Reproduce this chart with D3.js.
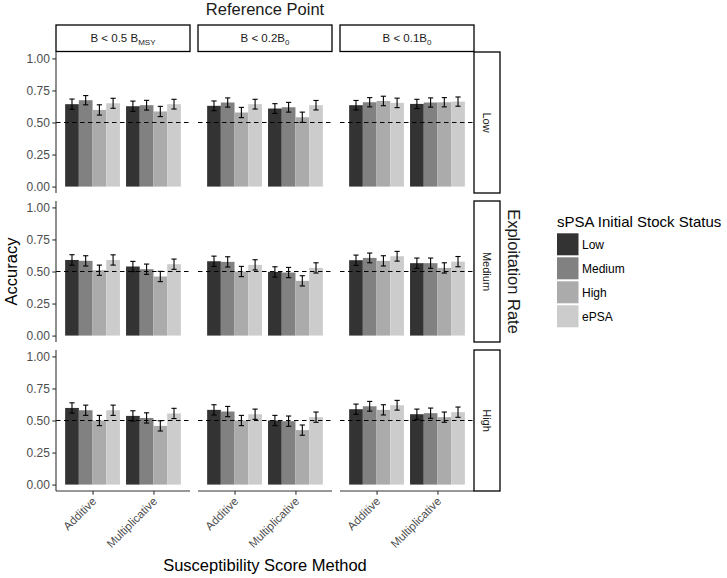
<!DOCTYPE html>
<html>
<head>
<meta charset="utf-8">
<script src="https://cdn.jsdelivr.net/npm/d3@7"></script>
<style>
  html, body { margin: 0; padding: 0; background: #fff; }
  svg { display: block; font-family: "Liberation Sans", Arial, sans-serif; }
</style>
</head>
<body>
<svg id="chart" width="727" height="578"></svg>
<script>
// ---------- DATA ----------
const refPointLabels = [["B < 0.5 B", "MSY"], ["B < 0.2B", "0"], ["B < 0.1B", "0"]];
const exploitRates = ["Low", "Medium", "High"];
const methods = ["Additive", "Multiplicative"];
const stockStatuses = ["Low", "Medium", "High", "ePSA"];
const yTicks = [0, 0.25, 0.5, 0.75, 1.0];

// accuracy per exploitation rate; rows: [refPoint][method] -> values per stock status
const accuracyLowExpl = [
  [[0.643, 0.674, 0.598, 0.650], [0.627, 0.635, 0.586, 0.643]],
  [[0.630, 0.656, 0.578, 0.643], [0.609, 0.619, 0.541, 0.635]],
  [[0.635, 0.658, 0.668, 0.653], [0.645, 0.656, 0.658, 0.663]]
];
const accuracyMediumExpl = [
  [[0.590, 0.583, 0.510, 0.590], [0.539, 0.518, 0.461, 0.557]],
  [[0.580, 0.575, 0.500, 0.552], [0.497, 0.492, 0.427, 0.528]],
  [[0.588, 0.606, 0.583, 0.619], [0.565, 0.565, 0.528, 0.577]]
];
const accuracyHighExpl = [
  [[0.598, 0.580, 0.500, 0.580], [0.536, 0.520, 0.458, 0.555]],
  [[0.583, 0.570, 0.500, 0.549], [0.500, 0.495, 0.425, 0.526]],
  [[0.588, 0.611, 0.583, 0.619], [0.549, 0.557, 0.526, 0.565]]
];
// half-width of error bars
const errorLowExpl = [
  [[0.040, 0.036, 0.040, 0.039], [0.040, 0.038, 0.040, 0.038]],
  [[0.038, 0.036, 0.040, 0.038], [0.038, 0.038, 0.040, 0.037]],
  [[0.037, 0.036, 0.037, 0.037], [0.036, 0.036, 0.036, 0.036]]
];
const errorMediumExpl = [
  [[0.041, 0.040, 0.040, 0.040], [0.040, 0.040, 0.040, 0.040]],
  [[0.040, 0.040, 0.040, 0.040], [0.040, 0.040, 0.040, 0.040]],
  [[0.040, 0.038, 0.040, 0.038], [0.040, 0.040, 0.040, 0.040]]
];
const errorHighExpl = [
  [[0.040, 0.040, 0.040, 0.040], [0.040, 0.040, 0.040, 0.040]],
  [[0.040, 0.040, 0.040, 0.040], [0.040, 0.040, 0.040, 0.040]],
  [[0.040, 0.038, 0.040, 0.038], [0.040, 0.040, 0.040, 0.040]]
];
const accuracyByExpl = [accuracyLowExpl, accuracyMediumExpl, accuracyHighExpl];
const errorByExpl = [errorLowExpl, errorMediumExpl, errorHighExpl];
const fillColors = ["#333333", "#818181", "#ababab", "#cccccc"];

// ---------- LAYOUT ----------
const svg = d3.select("#chart");
const colX0 = [56, 198, 340], panelW = 134;
const rowY0 = [52, 201, 350], panelH = 141;
const stripTopY = 25, stripTopH = 26.5;
const stripRightX = 474, stripRightW = 26;
const axisColor = "#333333", tickTextColor = "#4d4d4d";

const color = d3.scaleOrdinal().domain(stockStatuses).range(fillColors);

colX0.forEach((x0, ci) => {
  const xPos = d3.scalePoint().domain(methods).range([x0, x0 + panelW]).padding(0.6);
  const step = xPos.step();
  const xSub = d3.scaleBand().domain(stockStatuses).range([-0.45 * step, 0.45 * step]);

  rowY0.forEach((y0, ri) => {
    const y = d3.scaleLinear().domain([-0.05, 1.05]).range([y0 + panelH, y0]);
    const g = svg.append("g");
    const acc = accuracyByExpl[ri][ci];
    const err = errorByExpl[ri][ci];
    const data = [];
    methods.forEach((m, mi) => stockStatuses.forEach((s, si) => {
      data.push({ m, s, v: acc[mi][si], e: err[mi][si] });
    }));
    g.selectAll("rect.bar").data(data).enter().append("rect")
      .attr("x", d => xPos(d.m) + xSub(d.s))
      .attr("width", xSub.bandwidth())
      .attr("y", d => y(d.v))
      .attr("height", d => y(0) - y(d.v))
      .attr("fill", d => color(d.s));
    // error bars
    const capW = 2.6;
    const eb = g.selectAll("g.eb").data(data).enter().append("g")
      .attr("stroke", "#000").attr("stroke-width", 1.1);
    eb.append("line")
      .attr("x1", d => xPos(d.m) + xSub(d.s) + xSub.bandwidth() / 2)
      .attr("x2", d => xPos(d.m) + xSub(d.s) + xSub.bandwidth() / 2)
      .attr("y1", d => y(d.v - d.e)).attr("y2", d => y(d.v + d.e));
    eb.append("line")
      .attr("x1", d => xPos(d.m) + xSub(d.s) + xSub.bandwidth() / 2 - capW)
      .attr("x2", d => xPos(d.m) + xSub(d.s) + xSub.bandwidth() / 2 + capW)
      .attr("y1", d => y(d.v + d.e)).attr("y2", d => y(d.v + d.e));
    eb.append("line")
      .attr("x1", d => xPos(d.m) + xSub(d.s) + xSub.bandwidth() / 2 - capW)
      .attr("x2", d => xPos(d.m) + xSub(d.s) + xSub.bandwidth() / 2 + capW)
      .attr("y1", d => y(d.v - d.e)).attr("y2", d => y(d.v - d.e));
    // dashed reference line
    g.append("line")
      .attr("x1", x0).attr("x2", x0 + panelW)
      .attr("y1", y(0.5)).attr("y2", y(0.5))
      .attr("stroke", "#000").attr("stroke-width", 1.1)
      .attr("stroke-dasharray", "4.5,3.5");

    // y axis on first column
    if (ci === 0) {
      const ax = svg.append("g").attr("transform", `translate(${x0},0)`)
        .call(d3.axisLeft(y).tickValues(yTicks).tickFormat(d3.format(".2f")).tickSize(3.7).tickPadding(2.5));
      ax.select(".domain").attr("stroke", axisColor).attr("stroke-width", 1.1)
        .attr("d", `M0,${y0}V${y0 + panelH}`);
      ax.selectAll(".tick line").attr("stroke", axisColor).attr("stroke-width", 1.1);
      ax.selectAll(".tick text").attr("fill", tickTextColor).attr("font-size", 12)
        .attr("font-family", "Liberation Sans, Arial, sans-serif");
    }
    // x axis on bottom row
    if (ri === rowY0.length - 1) {
      const ax = svg.append("g").attr("transform", `translate(0,${y0 + panelH})`)
        .call(d3.axisBottom(xPos).tickSize(3.7));
      ax.select(".domain").attr("stroke", axisColor).attr("stroke-width", 1.1)
        .attr("d", `M${x0},0H${x0 + panelW}`);
      ax.selectAll(".tick line").attr("stroke", axisColor).attr("stroke-width", 1.1);
      ax.selectAll(".tick text").attr("fill", tickTextColor).attr("font-size", 11.5)
        .attr("font-family", "Liberation Sans, Arial, sans-serif")
        .attr("text-anchor", "end")
        .attr("dy", null).attr("y", null)
        .attr("transform", "translate(4,11) rotate(-45)");
    }
    // right strip
    if (ci === colX0.length - 1) {
      svg.append("rect").attr("x", stripRightX).attr("y", y0)
        .attr("width", stripRightW).attr("height", panelH)
        .attr("fill", "#fff").attr("stroke", "#000").attr("stroke-width", 1.3);
      svg.append("text")
        .attr("transform", `translate(${stripRightX + stripRightW / 2},${y0 + panelH / 2}) rotate(90)`)
        .attr("text-anchor", "middle").attr("dominant-baseline", "central")
        .attr("font-size", 11).attr("fill", "#1a1a1a")
        .text(exploitRates[ri]);
    }
  });

  // top strip
  svg.append("rect").attr("x", x0).attr("y", stripTopY)
    .attr("width", panelW).attr("height", stripTopH)
    .attr("fill", "#fff").attr("stroke", "#000").attr("stroke-width", 1.3);
  const t = svg.append("text")
    .attr("x", x0 + panelW / 2).attr("y", stripTopY + stripTopH / 2 + 4)
    .attr("text-anchor", "middle").attr("font-size", 11.5).attr("fill", "#1a1a1a");
  t.append("tspan").text(refPointLabels[ci][0]);
  t.append("tspan").attr("font-size", 8).attr("dy", 3).text(refPointLabels[ci][1]);
});

// titles
svg.append("text").attr("x", 265).attr("y", 15).attr("text-anchor", "middle")
  .attr("font-size", 16.5).attr("fill", "#1a1a1a").text("Reference Point");
svg.append("text").attr("x", 265).attr("y", 571).attr("text-anchor", "middle")
  .attr("font-size", 16.5).attr("fill", "#000").text("Susceptibility Score Method");
svg.append("text").attr("transform", "translate(17,271.5) rotate(-90)").attr("text-anchor", "middle")
  .attr("font-size", 16.5).attr("fill", "#000").text("Accuracy");
svg.append("text").attr("transform", "translate(508,271.5) rotate(90)").attr("text-anchor", "middle")
  .attr("font-size", 16.5).attr("fill", "#1a1a1a").text("Exploitation Rate");

// legend
const lg = svg.append("g").attr("transform", "translate(557,0)");
lg.append("text").attr("x", 0).attr("y", 226.5).attr("font-size", 15).attr("fill", "#000")
  .text("sPSA Initial Stock Status");
const keyH = 22, keyW = 21.5, keyGap = 2;
stockStatuses.forEach((s, i) => {
  const ky = 233.3 + i * (keyH + keyGap);
  lg.append("rect").attr("x", 0).attr("y", ky).attr("width", keyW).attr("height", keyH)
    .attr("fill", color(s));
  lg.append("text").attr("x", keyW + 3.5).attr("y", ky + keyH / 2 + 4.3)
    .attr("font-size", 12).attr("fill", "#000").text(s);
});
</script>
</body>
</html>
